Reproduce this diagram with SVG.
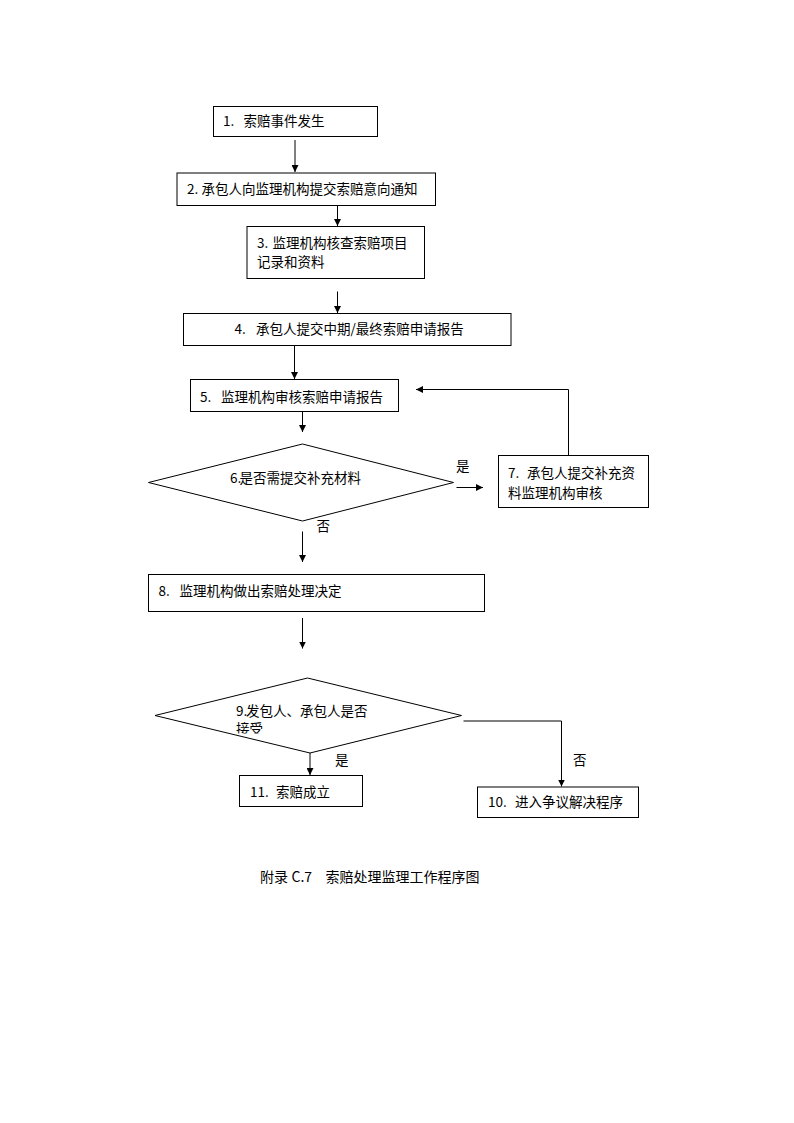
<svg xmlns="http://www.w3.org/2000/svg" width="794" height="1123" viewBox="0 0 794 1123">
<style>
.box{fill:#fff;stroke:#000;stroke-width:1}
.t{font-family:"Noto Sans CJK SC","Liberation Sans",sans-serif;font-size:13.5px;fill:#000}
.cap{font-size:14px}
.ln{fill:none;stroke:#000;stroke-width:1}
</style>
<defs>
<marker id="ah" viewBox="0 0 8 8" refX="8" refY="4" markerWidth="7" markerHeight="7" markerUnits="userSpaceOnUse" orient="auto">
<path d="M0,0 L8,4 L0,8 Z" fill="#000"/>
</marker>
<clipPath id="clip9"><rect x="200" y="700" width="150" height="33.5"/></clipPath>
</defs>
<rect width="794" height="1123" fill="#fff"/>
<g id="connectors">
<line class="ln" x1="295" y1="140" x2="295" y2="172" marker-end="url(#ah)"/>
<line class="ln" x1="337.5" y1="205.5" x2="337.5" y2="226" marker-end="url(#ah)"/>
<line class="ln" x1="337.5" y1="291.5" x2="337.5" y2="313" marker-end="url(#ah)"/>
<line class="ln" x1="294.5" y1="346" x2="294.5" y2="379" marker-end="url(#ah)"/>
<line class="ln" x1="302.5" y1="412" x2="302.5" y2="432" marker-end="url(#ah)"/>
<line class="ln" x1="456.5" y1="487.5" x2="483" y2="487.5" marker-end="url(#ah)"/>
<polyline class="ln" points="568.5,455 568.5,389.5 416,389.5" marker-end="url(#ah)"/>
<line class="ln" x1="302.5" y1="531.5" x2="302.5" y2="562" marker-end="url(#ah)"/>
<line class="ln" x1="302.5" y1="618" x2="302.5" y2="648.5" marker-end="url(#ah)"/>
<line class="ln" x1="310" y1="753" x2="310" y2="775" marker-end="url(#ah)"/>
<polyline class="ln" points="463.5,721 561.5,721 561.5,786.5" marker-end="url(#ah)"/>
</g>
<g id="n1"><rect class="box" x="213.5" y="106.5" width="164" height="30"/>
<text class="t" x="223" y="126">1.<tspan x="243.5">索赔事件发生</tspan></text></g>
<g id="n2"><rect class="box" x="177" y="173" width="258.5" height="32.5"/>
<text class="t" x="187" y="194">2.<tspan x="201.5">承包人向监理机构提交索赔意向通知</tspan></text></g>
<g id="n3"><rect class="box" x="247" y="226.5" width="177.5" height="52"/>
<text class="t" x="257" y="248">3.<tspan x="272.5">监理机构核查索赔项目</tspan></text>
<text class="t" x="257" y="267">记录和资料</text></g>
<g id="n4"><rect class="box" x="183.5" y="313.5" width="327.5" height="32"/>
<text class="t" x="234.5" y="334">4.<tspan x="256">承包人提交中期/最终索赔申请报告</tspan></text></g>
<g id="n5"><rect class="box" x="190.5" y="379.5" width="208" height="32"/>
<text class="t" x="200" y="401.5">5.<tspan x="221">监理机构审核索赔申请报告</tspan></text></g>
<g id="n6"><polygon class="box" points="302.5,444 453.5,482.5 302.5,521 148.5,482.5"/>
<text class="t" x="230" y="483">6.<tspan x="239.5">是否需提交补充材料</tspan></text></g>
<text class="t" x="456" y="471">是</text>
<text class="t" x="316.5" y="530.5">否</text>
<g id="n7"><rect class="box" x="498.5" y="455.5" width="150" height="52"/>
<text class="t" x="508" y="477.5">7.<tspan x="527">承包人提交补充资</tspan></text>
<text class="t" x="508" y="497.5">料监理机构审核</text></g>
<g id="n8"><rect class="box" x="148.5" y="574.5" width="336" height="37"/>
<text class="t" x="158.5" y="595.5">8.<tspan x="179.5">监理机构做出索赔处理决定</tspan></text></g>
<g id="n9"><polygon class="box" points="307.5,678 461.5,715.5 310,753 155,715.5"/>
<text class="t" x="236" y="715.5">9.<tspan x="246">发包人、承包人是否</tspan></text>
<text class="t" x="236" y="734" clip-path="url(#clip9)">接受</text></g>
<text class="t" x="335" y="765">是</text>
<text class="t" x="573" y="765">否</text>
<g id="n11"><rect class="box" x="239.5" y="775.5" width="123" height="31"/>
<text class="t" x="250" y="796.5">11.<tspan x="276">索赔成立</tspan></text></g>
<g id="n10"><rect class="box" x="477.5" y="787" width="161" height="30.5"/>
<text class="t" x="488" y="807">10.<tspan x="515">进入争议解决程序</tspan></text></g>
<text class="t cap" x="260" y="882">附录<tspan x="291.5">C.7</tspan><tspan x="325.5">索赔处理监理工作程序图</tspan></text>
</svg>
